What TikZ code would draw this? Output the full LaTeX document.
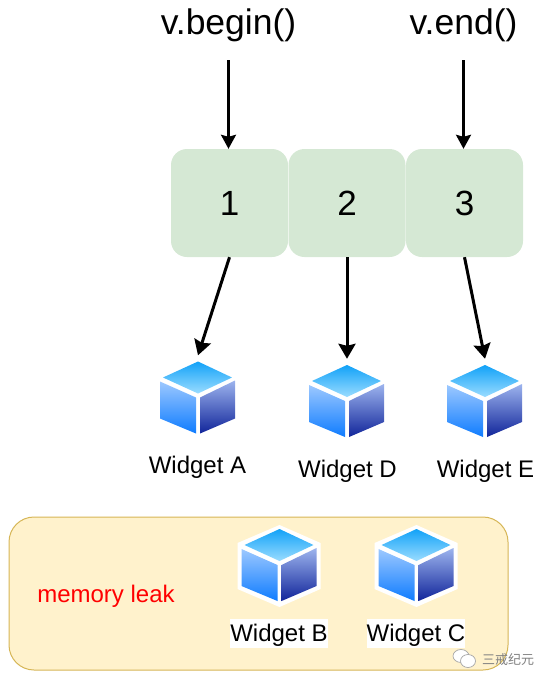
\documentclass[tikz,border=0pt]{standalone}
\usepackage{fontspec}
\setmainfont{Liberation Sans}
\newfontfamily\cjk{Noto Sans CJK SC}
\usepackage{tikz}
\usetikzlibrary{arrows.meta,positioning}
\definecolor{cellgreen}{HTML}{D5E8D4}
\definecolor{leakfill}{HTML}{FFF2CC}
\definecolor{leakline}{HTML}{D6B656}
\definecolor{cubetopA}{HTML}{12A2F8}
\definecolor{cubetopB}{HTML}{9ADCFF}
\definecolor{cubeleftA}{HTML}{9CC8FF}
\definecolor{cubeleftB}{HTML}{0F7CFF}
\definecolor{cuberightA}{HTML}{9DB4EE}
\definecolor{cuberightB}{HTML}{11259A}
\tikzstyle{cell}=[fill=cellgreen,rounded corners=16pt,minimum width=117pt,minimum height=108pt,inner sep=0pt,font=\fontsize{35}{35}\selectfont]
\tikzstyle{iter}=[minimum height=70pt,inner sep=0pt,font=\fontsize{35.5}{35.5}\selectfont]
\tikzstyle{cube}=[minimum width=76pt,minimum height=86pt,inner sep=0pt]
\tikzstyle{wname}=[inner sep=0pt,font=\fontsize{24}{24}\selectfont]
\tikzstyle{wnamebg}=[wname,fill=white,minimum width=97pt,text height=22.5pt,text depth=6.5pt]
\tikzstyle{ptr}=[-{Stealth[length=14pt,width=15pt,inset=2pt]},line width=2.4pt]
\tikzstyle{hold}=[-{Stealth[length=15pt,width=17pt,inset=2pt]},line width=3pt]
\tikzset{
widget/.pic={
\shade[top color=cubetopA,bottom color=cubetopB] (0,-37)--(34,-21)--(0,-5)--(-35,-21)--cycle;
\shade[top color=cubeleftA,bottom color=cubeleftB] (-38,-17)--(-2,-1)--(-2,35)--(-38,20)--cycle;
\shade[top color=cuberightA,bottom color=cuberightB] (2,-1)--(37,-18)--(37,20)--(2,35)--cycle;
},
halo/.pic={
\fill[white] (0,-41)--(41,-23)--(41,23)--(0,41)--(-42,23)--(-42,-23)--cycle;
}
}
\begin{document}
\begin{tikzpicture}
[x=1pt,y=-1pt,node distance=117.5pt]
\useasboundingbox (0,0) rectangle (551,685);
\draw[fill=leakfill,draw=leakline,line width=1pt,rounded corners=25pt] (9,517) rectangle (508,670);
\node[cell] (1) at (229.5,203) {1};
\node[cell,right of=1] (2) {2};
\node[cell,right of=2] (3) {3};
\node[iter] (begin) at (228.5,25) {v.begin()};
\node[iter] (end) at (463.5,25) {v.end()};
% cubes that are still held
\node[cube] (a) at (198,398.5) {};
\node[cube] (d) at (347,402) {};
\node[cube] (e) at (485,402) {};
\pic at (a) {widget};
\pic at (d) {widget};
\pic at (e) {widget};
\node[wname] (aname) at (197.5,467.5) {Widget A};
\node[wname] (dname) at (347.5,471.5) {Widget D};
\node[wname] (ename) at (485.5,471.5) {Widget E};
% cubes that leaked
\node[cube] (b) at (279.5,566) {};
\node[cube] (c) at (416.5,566) {};
\pic at (b) {halo};
\pic at (c) {halo};
\pic at (b) {widget};
\pic at (c) {widget};
\node[wnamebg] (bname) at (279,633.5) {Widget B};
\node[wnamebg] (cname) at (416,633.5) {Widget C};
\node[wname,text=red] (leak) at (106,596.5) {memory leak};
\path
(begin.south) edge[ptr] (begin.south|-1.north)
(end.south) edge[ptr] (end.south|-3.north)
(1.south) edge[hold] (a.north)
(2.south) edge[hold] (d.north)
(3.south) edge[hold] (e.north);
% watermark
\begin{scope}[shift={(464,659)}]
\draw[fill=white,draw=gray!70,line width=0.7pt] (-3,-3) ellipse (8 and 6.5);
\draw[fill=white,draw=gray!70,line width=0.7pt] (4,2) ellipse (7.5 and 6.5);
\end{scope}
\node[inner sep=0pt,text=gray,font=\cjk\fontsize{13}{13}\selectfont] (mark) at (508,660) {三戒纪元};
\end{tikzpicture}
\end{document}
